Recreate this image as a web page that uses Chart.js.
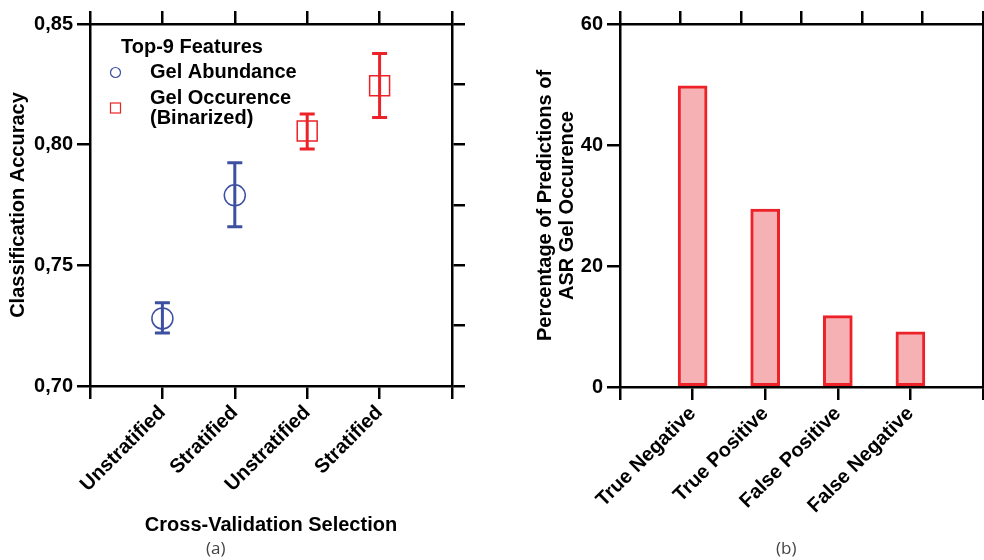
<!DOCTYPE html>
<html>
<head>
<meta charset="utf-8">
<script src="https://cdn.jsdelivr.net/npm/chart.js@4.4.1/dist/chart.umd.min.js"></script>
<style>
  html, body { margin: 0; padding: 0; background: #fff; overflow: hidden; }
  body { width: 984px; height: 560px; position: relative; }
  canvas { position: absolute; top: 0; }
  #left { left: 0; }
  #right { left: 490px; }
  .tag { position: absolute; top: 536px; font: 17px 'Open Sans', 'Noto Sans', sans-serif; color: #444; }
</style>
</head>
<body>
<canvas id="left" width="490" height="560"></canvas>
<canvas id="right" width="520" height="560"></canvas>
<div class="tag" style="left:206px">(a)</div>
<div class="tag" style="left:776px">(b)</div>
<script>
// panel (a): classification accuracy
const groups = ['Unstratified', 'Stratified', 'Unstratified', 'Stratified'];
const abundanceX = [1, 2];
const abundanceMean = [0.728, 0.779];
const abundanceLow = [0.722, 0.766];
const abundanceHigh = [0.7345, 0.7925];
const occurrenceX = [3, 4];
const occurrenceMean = [0.8057, 0.8244];
const occurrenceLow = [0.7982, 0.8113];
const occurrenceHigh = [0.8127, 0.8378];
const accuracyTicks = [0.70, 0.75, 0.80, 0.85];

// panel (b): prediction outcomes
const outcomes = ['True Negative', 'True Positive', 'False Positive', 'False Negative'];
const percentages = [49.8, 29.4, 11.8, 9.1];

const BLUE = '#3d4fa0';
const RED = '#ed2229';

Chart.defaults.font.family = "'Liberation Sans', Arial, sans-serif";
Chart.defaults.font.size = 20;
Chart.defaults.font.weight = 'bold';
Chart.defaults.color = '#000';

// outward tick marks + frame line shared by every axis
function frameAxis(extra) {
  return Object.assign({
    grid: { drawOnChartArea: false, drawTicks: true, tickLength: 13, lineWidth: 2.5, color: '#000' },
    border: { display: true, width: 2.5, color: '#000' }
  }, extra);
}

const fixWidth = w => s => { s.width = w; };
const fixHeight = h => s => { s.height = h; };

// vertical error bars with caps, read from dataset.errLow / errHigh
const errorBars = {
  id: 'errorBars',
  afterDatasetsDraw(chart) {
    const { ctx, scales: { x, y } } = chart;
    ctx.save();
    ctx.lineWidth = 3;
    chart.data.datasets.forEach(ds => {
      ctx.strokeStyle = ds.borderColor;
      ds.data.forEach((p, i) => {
        const px = x.getPixelForValue(p.x);
        const lo = y.getPixelForValue(ds.errLow[i]);
        const hi = y.getPixelForValue(ds.errHigh[i]);
        ctx.beginPath();
        ctx.moveTo(px, lo); ctx.lineTo(px, hi);
        ctx.moveTo(px - 7.5, lo); ctx.lineTo(px + 7.5, lo);
        ctx.moveTo(px - 7.5, hi); ctx.lineTo(px + 7.5, hi);
        ctx.stroke();
      });
    });
    ctx.restore();
  }
};

// legend sitting inside the plot area
const insideLegend = {
  id: 'insideLegend',
  afterDraw(chart) {
    const ctx = chart.ctx;
    ctx.save();
    ctx.font = "bold 20px 'Liberation Sans', Arial, sans-serif";
    ctx.fillStyle = '#000';
    ctx.textBaseline = 'alphabetic';
    ctx.fillText('Top-9 Features', 121, 53);
    ctx.fillText('Gel Abundance', 150, 78);
    ctx.fillText('Gel Occurence', 150, 104);
    ctx.fillText('(Binarized)', 150, 124);
    ctx.lineWidth = 1.2;
    ctx.strokeStyle = BLUE;
    ctx.beginPath();
    ctx.arc(115.5, 72.5, 5, 0, Math.PI * 2);
    ctx.stroke();
    ctx.strokeStyle = RED;
    ctx.strokeRect(110.5, 103, 10, 10);
    ctx.restore();
  }
};

const toPoints = (xs, ys) => xs.map((v, i) => ({ x: v, y: ys[i] }));

new Chart(document.getElementById('left'), {
  type: 'scatter',
  data: {
    datasets: [{
      label: 'Gel Abundance',
      data: toPoints(abundanceX, abundanceMean),
      errLow: abundanceLow,
      errHigh: abundanceHigh,
      pointStyle: 'circle',
      pointRadius: 10.5,
      borderColor: BLUE,
      backgroundColor: 'rgba(0,0,0,0)',
      borderWidth: 1.5
    }, {
      label: 'Gel Occurence (Binarized)',
      data: toPoints(occurrenceX, occurrenceMean),
      errLow: occurrenceLow,
      errHigh: occurrenceHigh,
      pointStyle: 'rect',
      pointRadius: 14.1,
      borderColor: RED,
      backgroundColor: 'rgba(0,0,0,0)',
      borderWidth: 1.5
    }]
  },
  options: {
    responsive: false,
    animation: false,
    layout: { padding: 0 },
    plugins: { legend: { display: false }, tooltip: { enabled: false } },
    scales: {
      x: frameAxis({
        type: 'linear', position: 'bottom', min: 0, max: 5,
        afterFit: fixHeight(174),
        ticks: {
          stepSize: 1, autoSkip: false, minRotation: 45, maxRotation: 45, padding: 2,
          callback: v => groups[v - 1] || ''
        },
        title: { display: true, text: 'Cross-Validation Selection', padding: { top: 0, bottom: 23 } }
      }),
      xTop: frameAxis({
        type: 'linear', position: 'top', min: 0, max: 5,
        afterFit: fixHeight(24),
        ticks: { stepSize: 1, display: false }
      }),
      y: frameAxis({
        type: 'linear', position: 'left', min: 0.70, max: 0.85,
        afterFit: fixWidth(90),
        afterBuildTicks: s => { s.ticks = accuracyTicks.map(v => ({ value: v })); },
        ticks: { padding: 4, callback: v => v.toFixed(2).replace('.', ',') },
        title: { display: true, text: 'Classification Accuracy', padding: { top: 6, bottom: 0 } }
      }),
      yRight: frameAxis({
        type: 'linear', position: 'right', min: 0.70, max: 0.85,
        afterFit: fixWidth(38),
        ticks: { stepSize: 0.025, display: false }
      })
    }
  },
  plugins: [errorBars, insideLegend]
});

new Chart(document.getElementById('right'), {
  type: 'bar',
  data: {
    datasets: [{
      data: outcomes.map((o, i) => ({ x: i + 1, y: percentages[i] })),
      backgroundColor: '#f6b1b5',
      borderColor: RED,
      borderWidth: 3,
      borderSkipped: false,
      barThickness: 29
    }]
  },
  options: {
    responsive: false,
    animation: false,
    layout: { padding: 0 },
    plugins: { legend: { display: false }, tooltip: { enabled: false } },
    scales: {
      x: frameAxis({
        type: 'linear', position: 'bottom', min: 0, max: 5, offset: false,
        afterFit: fixHeight(173),
        grid: { offset: false, drawOnChartArea: false, drawTicks: true, tickLength: 13, lineWidth: 2.5, color: '#000' },
        ticks: {
          stepSize: 1, autoSkip: false, minRotation: 45, maxRotation: 45, padding: 2,
          callback: v => outcomes[v - 1] || ''
        }
      }),
      xTop: frameAxis({
        type: 'linear', position: 'top', min: 0, max: 5,
        afterFit: fixHeight(24),
        ticks: { stepSize: 1, display: false }
      }),
      y: frameAxis({
        type: 'linear', position: 'left', min: 0, max: 60,
        afterFit: fixWidth(130),
        ticks: { stepSize: 20, padding: 4 },
        title: {
          display: true,
          text: ['Percentage of Predictions of', 'ASR Gel Occurence'],
          font: { size: 20, lineHeight: 1.1 },
          padding: { top: 44, bottom: 0 }
        }
      }),
      yRight: frameAxis({
        type: 'linear', position: 'right', min: 0, max: 60,
        afterFit: fixWidth(27),
        ticks: { stepSize: 10, display: false }
      })
    }
  }
});
</script>
</body>
</html>
